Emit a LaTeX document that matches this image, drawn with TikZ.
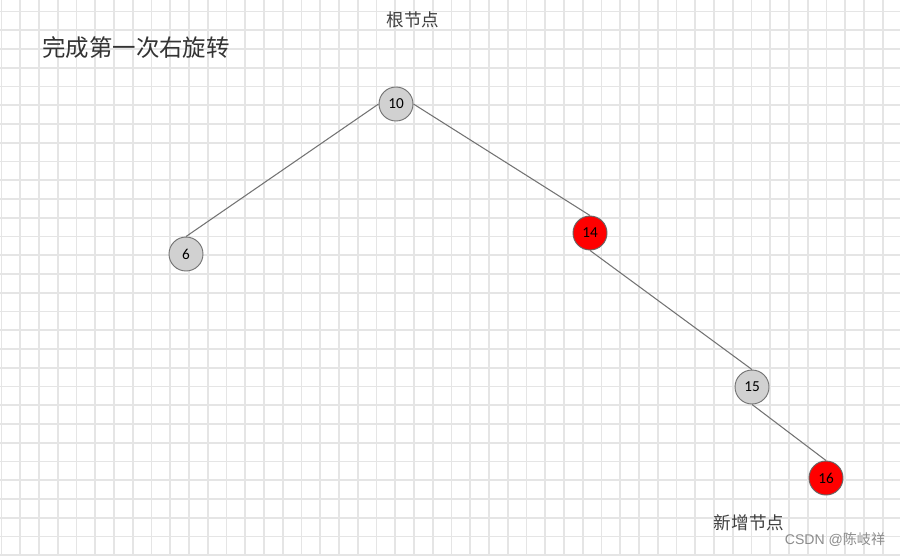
\documentclass[tikz,border=0pt]{standalone}
\usepackage{fontspec}
\setmainfont{Carlito}
\newfontfamily\cjk{Noto Sans CJK SC}
\newfontfamily\wm{Liberation Sans}
\begin{document}
\begin{tikzpicture}[x=0.03cm,y=-0.03cm,
  gridline/.style={draw=black!10,line width=1.6pt},
  edge/.style={draw=black!55,line width=0.9pt},
  graynode/.style={circle,draw=black!55,line width=0.8pt,fill=black!18,minimum size=34*0.03cm,inner sep=0pt,font=\fontsize{13}{15}\selectfont},
  rednode/.style={circle,draw=black!60,line width=0.8pt,fill=red,minimum size=34*0.03cm,inner sep=0pt,font=\fontsize{13}{15}\selectfont},
  label/.style={font=\cjk\fontsize{15}{17}\selectfont,text=black!75}]
\useasboundingbox (0,0) rectangle (900,556);
\fill[white] (0,0) rectangle (900,556);
\foreach \i in {0,...,47} {\pgfmathsetmacro{\gx}{1.5+18.75*\i}\draw[gridline] (\gx,0) -- (\gx,556);}
\foreach \j in {0,...,29} {\pgfmathsetmacro{\gy}{11.5+18.75*\j}\draw[gridline] (0,\gy) -- (900,\gy);}
\node[graynode] (n10) at (396,104) {10};
\node[graynode] (n6) at (186,254) {6};
\node[rednode] (n14) at (590,233) {14};
\node[graynode] (n15) at (752,387) {15};
\node[rednode] (n16) at (826,478) {16};
\draw[edge] (n10.west) -- (n6.north);
\draw[edge] (n10.east) -- (n14.north);
\draw[edge] (n14.south) -- (n15.north);
\draw[edge] (n15.south) -- (n16.north);
\node[font=\cjk\fontsize{20}{22}\selectfont,text=black!80] (title) at (136,48) {完成第一次右旋转};
\node[label] (root) at (413,20) {根节点};
\node[label] (new) at (749,523) {新增节点};
\node[font=\wm\fontsize{12}{14}\selectfont,text=black!45] (wm) at (835,540) {CSDN @{\cjk 陈岐祥}};
\end{tikzpicture}
\end{document}
